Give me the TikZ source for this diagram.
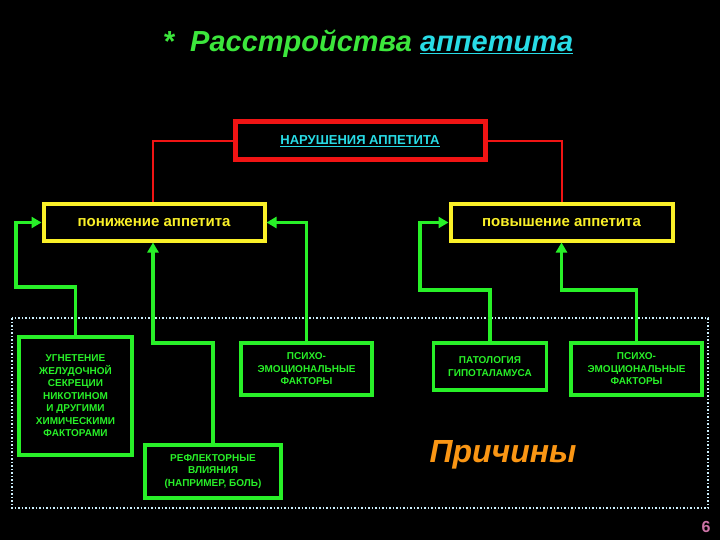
\documentclass[tikz,border=0pt]{standalone}
\usepackage{fontspec}
\setmainfont{Liberation Sans}
\usetikzlibrary{arrows.meta}
\definecolor{gr}{RGB}{40,240,40}
\definecolor{ttl}{RGB}{60,230,60}
\definecolor{cy}{RGB}{40,220,230}
\definecolor{yl}{RGB}{250,240,40}
\definecolor{rd}{RGB}{240,20,20}
\definecolor{og}{RGB}{250,150,20}
\begin{document}
\begin{tikzpicture}[x=1pt,y=-1pt,
  cause/.style={draw=gr,line width=3.5pt,fill=black,text=gr,font=\bfseries\fontsize{10}{12.5}\selectfont,align=center,minimum height=0pt,inner sep=0pt},
  ybox/.style={draw=yl,line width=4pt,text=yl,font=\bfseries\fontsize{15}{17}\selectfont,inner sep=0pt},
  gline/.style={draw=gr,line width=3.5pt,-{Triangle[length=10pt,width=11pt]}},
  rline/.style={draw=rd,line width=2pt}]
\fill[black] (0,0) rectangle (720,540);
\useasboundingbox (0,0) rectangle (720,540);
\node[font=\itshape\bfseries\fontsize{29}{32}\selectfont] (title) at (368,44) {\textcolor{ttl}{*\ \ Расстройства} \textcolor{cy}{\underline{аппетита}}};
\draw[white!80!cyan,line width=1.5pt,dotted] (12,318) rectangle (708,508);
\node[draw=rd,line width=5pt,minimum width=250pt,minimum height=38pt,text=cy,font=\bfseries\fontsize{13}{15}\selectfont] (top) at (360,141) {\underline{НАРУШЕНИЯ АППЕТИТА}};
\node[ybox,minimum width=221pt,minimum height=36pt] (low) at (154,222.5) {понижение аппетита};
\node[ybox,minimum width=222pt,minimum height=36pt] (high) at (561.5,222.5) {повышение аппетита};
\draw[rline] (top.west) -| (low.north -| 153,0);
\draw[rline] (top.east) -| (high.north);
\node[cause,minimum width=113pt,minimum height=118pt] (a) at (75.5,396) {УГНЕТЕНИЕ\\ЖЕЛУДОЧНОЙ\\СЕКРЕЦИИ\\НИКОТИНОМ\\И ДРУГИМИ\\ХИМИЧЕСКИМИ\\ФАКТОРАМИ};
\node[cause,minimum width=131pt,minimum height=52pt] (pl) at (306.5,369) {ПСИХО-\\ЭМОЦИОНАЛЬНЫЕ\\ФАКТОРЫ};
\node[cause,minimum width=136pt,minimum height=53pt] (rf) at (213,471.5) {РЕФЛЕКТОРНЫЕ\\ВЛИЯНИЯ\\(НАПРИМЕР, БОЛЬ)};
\node[cause,minimum width=113pt,minimum height=47pt] (pt) at (490,366.5) {ПАТОЛОГИЯ\\ГИПОТАЛАМУСА};
\node[cause,minimum width=131pt,minimum height=52pt] (pr) at (636.5,369) {ПСИХО-\\ЭМОЦИОНАЛЬНЫЕ\\ФАКТОРЫ};
\draw[gline] (a.north) -- (75.5,287) -| (16,222.5) -- (low.west);
\draw[gline] (rf.north) -- (213,343) -| (low.south -| 153,0);
\draw[gline] (pl.north) |- (low.east);
\draw[gline] (pt.north) -- (490,290) -| (420,222.5) -- (high.west);
\draw[gline] (pr.north) -- (636.5,290) -| (high.south);
\node[text=og,font=\itshape\bfseries\fontsize{32}{34}\selectfont] (pr2) at (503,455) {Причины};
\node[text=violet!40!pink,font=\bfseries\fontsize{16}{17}\selectfont] (num) at (706,527) {6};
\end{tikzpicture}
\end{document}
